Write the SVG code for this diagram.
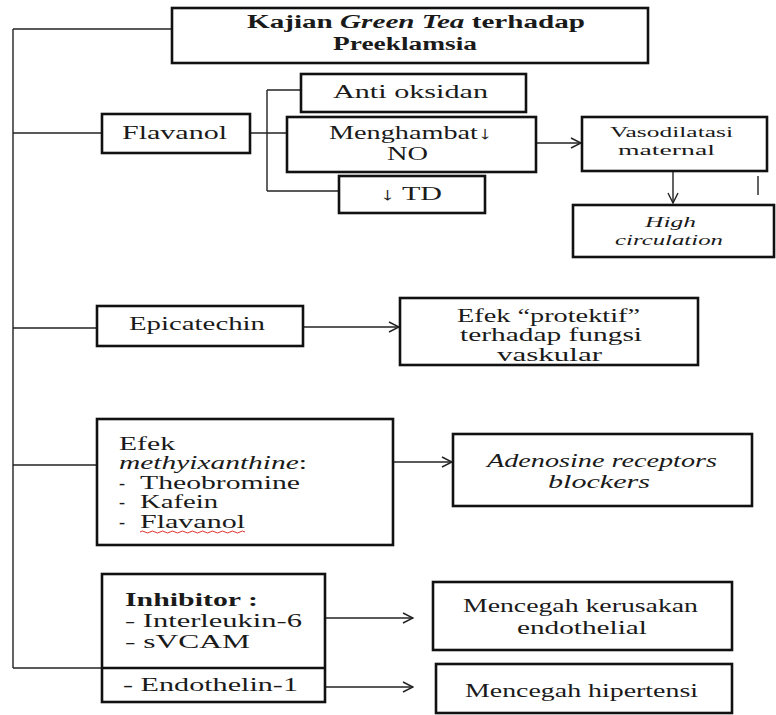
<svg xmlns="http://www.w3.org/2000/svg" width="776" height="715" viewBox="0 0 776 715">
<style>
.box{fill:#fff;stroke:#111;stroke-width:2.6}
.ln{fill:none;stroke:#222;stroke-width:1.4}
.t{font-family:"Liberation Serif","Times New Roman",serif;font-size:18px;fill:#1a1a1a}
.s{font-size:15px}
.b{font-weight:bold}
.i{font-style:italic}
</style>
<defs>
<marker id="ah" markerWidth="12" markerHeight="12" refX="11" refY="6" orient="auto" markerUnits="userSpaceOnUse">
<path d="M1,1 L11,6 L1,11" fill="none" stroke="#222" stroke-width="1.4"/>
</marker>
</defs>
<g id="connectors">
<path class="ln" d="M13,29 V668"/>
<path class="ln" d="M13,29 H172"/>
<path class="ln" d="M13,133 H102"/>
<path class="ln" d="M13,328 H97"/>
<path class="ln" d="M13,465 H97"/>
<path class="ln" d="M13,668 H102"/>
<path class="ln" d="M250,133 H287"/>
<path class="ln" d="M267,90 V191"/>
<path class="ln" d="M267,90 H301"/>
<path class="ln" d="M267,191 H339"/>
<path class="ln" d="M536,143 H581" marker-end="url(#ah)"/>
<path class="ln" d="M673,171 V203" marker-end="url(#ah)"/>
<path class="ln" d="M758,176 V195"/>
<path class="ln" d="M303,327 H399" marker-end="url(#ah)"/>
<path class="ln" d="M393,462 H452" marker-end="url(#ah)"/>
<path class="ln" d="M325,618 H413" marker-end="url(#ah)"/>
<path class="ln" d="M325,687 H413" marker-end="url(#ah)"/>
</g>
<g id="title">
<rect class="box" x="172" y="8" width="476" height="55"/>
<text class="t b" x="247" y="28" textLength="338" lengthAdjust="spacingAndGlyphs">Kajian <tspan class="i">Green Tea</tspan> terhadap</text>
<text class="t b" x="333" y="50" textLength="144" lengthAdjust="spacingAndGlyphs">Preeklamsia</text>
</g>
<g id="flavanol">
<rect class="box" x="102" y="114" width="148" height="39"/>
<text class="t" x="122" y="139" textLength="105" lengthAdjust="spacingAndGlyphs">Flavanol</text>
</g>
<g id="antioksidan">
<rect class="box" x="301" y="74" width="225" height="38"/>
<text class="t" x="333" y="98" textLength="155" lengthAdjust="spacingAndGlyphs">Anti oksidan</text>
</g>
<g id="menghambat">
<rect class="box" x="287" y="117" width="249" height="55"/>
<text class="t" x="329" y="139" textLength="163" lengthAdjust="spacingAndGlyphs">Menghambat↓</text>
<text class="t" x="387" y="160" textLength="41" lengthAdjust="spacingAndGlyphs">NO</text>
</g>
<g id="td">
<rect class="box" x="339" y="176" width="146" height="37"/>
<text class="t" x="380" y="200" textLength="62" lengthAdjust="spacingAndGlyphs">↓ TD</text>
</g>
<g id="vasodilatasi">
<rect class="box" x="582" y="117" width="185" height="54"/>
<text class="t s" x="610" y="137" textLength="123" lengthAdjust="spacingAndGlyphs">Vasodilatasi</text>
<text class="t s" x="618" y="155" textLength="97" lengthAdjust="spacingAndGlyphs">maternal</text>
</g>
<g id="highcirculation">
<rect class="box" x="573" y="205" width="201" height="52"/>
<text class="t s i" x="645" y="227" textLength="51" lengthAdjust="spacingAndGlyphs">High</text>
<text class="t s i" x="615" y="245" textLength="108" lengthAdjust="spacingAndGlyphs">circulation</text>
</g>
<g id="epicatechin">
<rect class="box" x="97" y="306" width="206" height="40"/>
<text class="t" x="129" y="330" textLength="136" lengthAdjust="spacingAndGlyphs">Epicatechin</text>
</g>
<g id="protektif">
<rect class="box" x="400" y="298" width="298" height="67"/>
<text class="t" x="457" y="322" textLength="183" lengthAdjust="spacingAndGlyphs">Efek “protektif”</text>
<text class="t" x="460" y="341" textLength="182" lengthAdjust="spacingAndGlyphs">terhadap fungsi</text>
<text class="t" x="497" y="361" textLength="105" lengthAdjust="spacingAndGlyphs">vaskular</text>
</g>
<g id="methylxanthine">
<rect class="box" x="97" y="419" width="296" height="126"/>
<text class="t" x="119" y="450" textLength="56" lengthAdjust="spacingAndGlyphs">Efek</text>
<text class="t" x="119" y="469" textLength="188" lengthAdjust="spacingAndGlyphs"><tspan class="i">methyixanthine</tspan>:</text>
<text class="t" x="119" y="489">-</text>
<text class="t" x="140" y="489" textLength="160" lengthAdjust="spacingAndGlyphs">Theobromine</text>
<text class="t" x="119" y="508">-</text>
<text class="t" x="140" y="508" textLength="78" lengthAdjust="spacingAndGlyphs">Kafein</text>
<text class="t" x="119" y="528">-</text>
<text class="t" x="140" y="528" textLength="105" lengthAdjust="spacingAndGlyphs">Flavanol</text>
<path d="M140,532 q2.5,-2 5,0 t5,0 t5,0 t5,0 t5,0 t5,0 t5,0 t5,0 t5,0 t5,0 t5,0 t5,0 t5,0 t5,0 t5,0 t5,0 t5,0 t5,0 t5,0 t5,0 t5,0" fill="none" stroke="#e03030" stroke-width="1"/>
</g>
<g id="adenosine">
<rect class="box" x="453" y="434" width="299" height="72"/>
<text class="t i" x="487" y="467" textLength="230" lengthAdjust="spacingAndGlyphs">Adenosine receptors</text>
<text class="t i" x="548" y="488" textLength="102" lengthAdjust="spacingAndGlyphs">blockers</text>
</g>
<g id="inhibitor">
<rect class="box" x="102" y="574" width="223" height="128"/>
<line class="box" x1="102" y1="668" x2="325" y2="668"/>
<text class="t b" x="125" y="606" textLength="133" lengthAdjust="spacingAndGlyphs">Inhibitor :</text>
<text class="t" x="125" y="627" textLength="177" lengthAdjust="spacingAndGlyphs">- Interleukin-6</text>
<text class="t" x="125" y="648" textLength="125" lengthAdjust="spacingAndGlyphs">- sVCAM</text>
<text class="t" x="123" y="691" textLength="175" lengthAdjust="spacingAndGlyphs">- Endothelin-1</text>
</g>
<g id="kerusakan">
<rect class="box" x="433" y="582" width="299" height="68"/>
<text class="t" x="463" y="612" textLength="235" lengthAdjust="spacingAndGlyphs">Mencegah kerusakan</text>
<text class="t" x="517" y="634" textLength="130" lengthAdjust="spacingAndGlyphs">endothelial</text>
</g>
<g id="hipertensi">
<rect class="box" x="436" y="664" width="296" height="49"/>
<text class="t" x="465" y="697" textLength="233" lengthAdjust="spacingAndGlyphs">Mencegah hipertensi</text>
</g>
</svg>
